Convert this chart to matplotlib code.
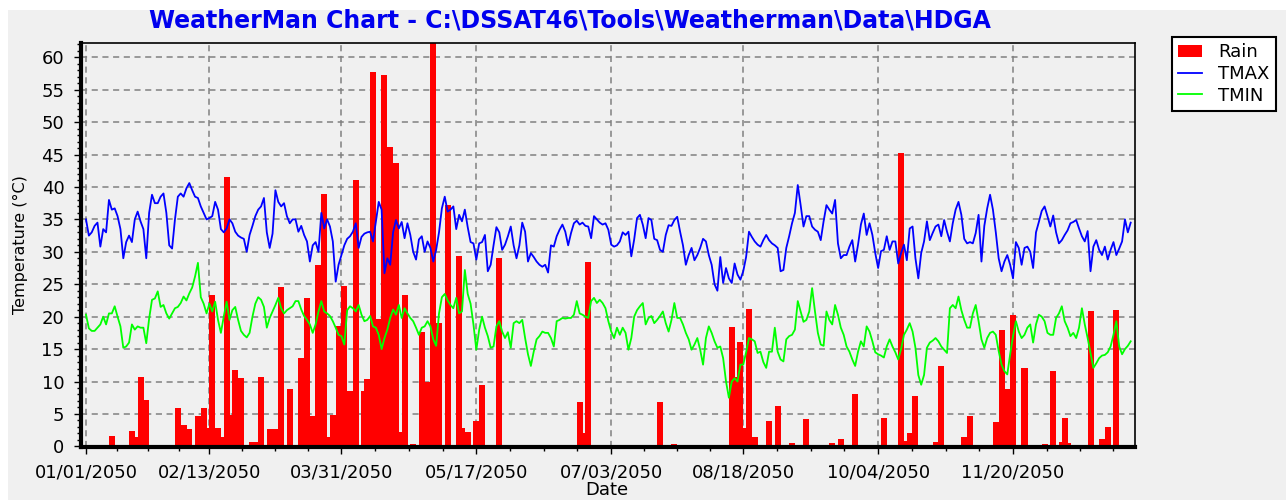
import datetime as dt
import numpy as np
import matplotlib
matplotlib.use("Agg")
import matplotlib.pyplot as plt
from matplotlib.patches import Rectangle, Patch
from matplotlib.lines import Line2D
from matplotlib.ticker import FixedLocator, MultipleLocator

# ---------------- data ----------------
title = r"WeatherMan Chart - C:\DSSAT46\Tools\Weatherman\Data\HDGA"
x_title = "Date"
y_title = "Temperature (°C)"
series_names = ["Rain", "TMAX", "TMIN"]
tick_labels = ["01/01/2050", "02/13/2050", "03/31/2050", "05/17/2050",
               "07/03/2050", "08/18/2050", "10/04/2050", "11/20/2050"]

tmax = [
    35, 32.5, 33, 34, 34.5, 30.8, 33.5, 33, 38, 36.5,
    36.7, 35.5, 33.5, 29, 31.5, 32.5, 31.5, 35, 36.2, 34.7,
    33.5, 29, 36, 38.8, 37.5, 37.5, 38.5, 39, 36, 31,
    30.5, 35, 38.5, 39, 38.5, 39.8, 40.6, 39.5, 38.5, 38.3,
    37, 36, 35, 35.2, 35.5, 37.7, 36.5, 33.5, 33, 33.6,
    35, 34.4, 33.1, 32.5, 32.2, 32, 30, 32.6, 34, 35.5,
    36.5, 37, 38.3, 33, 30.6, 32.8, 39.5, 37.7, 37, 37.5,
    35.5, 34.4, 35, 35, 33.1, 34, 32.6, 31.6, 28.5, 31,
    31.5, 30, 36, 33.6, 35, 33.9, 31.6, 25.4, 28, 29.5,
    31, 32, 32.4, 33.1, 34.4, 30.6, 32.3, 32.8, 33, 33.1,
    31.6, 34.6, 37.7, 36.5, 26.7, 29, 28, 33, 34.9, 33.6,
    34.6, 32.1, 34.4, 32.6, 30, 28.8, 31.9, 32.4, 30, 31.6,
    30.6,
    28.5, 30.3, 33, 36.7, 38.5, 36.2, 36.5, 37, 33.5,
    35.7, 34.7, 36.5, 33.8, 31.5, 31.3, 28.8, 31.3, 31.5, 32.6,
    27, 28, 31, 33.8, 33, 30.3, 31.1, 32.4, 33.9, 31,
    29, 31, 34.5, 33.1, 28.5, 29.8, 29.2, 28.5, 28, 27.7,
    28, 26.8, 31, 30.8, 32.4, 33.4, 34.2, 33.1, 31, 32.9,
    34.4, 34.8, 34.2, 34.5, 34, 33.9, 32.1, 35.5, 35, 34.5,
    34.2, 34.4,
    33.4, 31.1, 30.8, 31, 31.6, 33, 32.6, 33.1,
    29.3, 31.9, 35.2, 35.7, 34.2, 32.1, 35.2, 34.9, 32, 31.8,
    30.3, 30, 32.6, 34.1, 34, 34.9, 35.4, 33.1, 31, 28,
    29.5, 30.6, 28.7, 29.5, 30.6, 32, 31.6, 29.5, 28, 25,
    24, 29.2, 25.2, 27.5, 25.9, 25.2, 28.2, 26.5, 25.7, 27,
    29.2, 33.1, 32.3, 31.6, 31.1, 30.8, 31.8, 32.6, 31.8, 31.3,
    31, 30.6, 27, 27.2,
    30.6, 32.4, 34.4, 36, 40.3, 37.2,
    33.9, 35.5, 35.5, 33.9, 33.4, 33.1, 31.8, 34.7, 37.2, 36.5,
    35.9, 38, 31.3, 29, 29.5, 29.5, 30.8, 31.8, 28.5, 31.1,
    34.2, 35.9, 32.6, 34.4, 32.6, 29.8, 27.5, 30.1, 30.3, 32.4,
    30.3, 31.6, 31.6, 28.2, 29.8, 31.1, 28.7, 33.6, 33.9, 29,
    25.9, 29.8, 31.6, 34.7, 31.8, 32.9, 33.9, 34.2, 32.4, 34.9,
    33.1, 31.6, 34.4, 36.5, 37.7,
    35.7, 32, 31.3, 31.5, 31.3,
    32.9, 35.7, 28.5, 34, 36.7, 38.8, 36.5, 33, 29, 27,
    28.5, 29.5, 28, 25.9, 31.5, 30.6, 28, 30.6, 30.8, 30,
    27.5, 33, 34.6, 36.3, 37, 35.5, 33.9, 35.6, 33, 31.3,
    31.8, 32.6, 33.3, 34.4, 34.6, 34.9, 33.6, 32.4, 31.6, 33.2,
    27, 30.8, 31.8, 30.3, 29.5, 30.8, 28.8, 30.3, 31.5, 29.5,
    30.5, 31.6, 35, 33, 34.5,
]

tmin = [
    20.3, 18.2, 17.8, 17.8, 18.3, 18.8, 20, 18.8, 20.5, 20.5,
    21.6, 20, 18.5, 15.2, 15.4, 16, 18.8, 18, 18.5, 18.3,
    18.3, 15.9, 19.7, 22.6, 22.8, 23.9, 21.5, 21.8, 20.5, 19.7,
    20.5, 21.3, 21.5, 22.1, 23.1, 22.5, 23.6, 24.5, 26.2, 28.3,
    23, 22, 20.5, 22, 20.8, 22.3, 19.5, 17.5, 20, 22.3,
    19.5, 21, 21.5, 19.5, 17.8, 17.2, 16.8, 17.5, 20, 22,
    23, 22.6, 21.5, 18.3, 19.8, 20.8, 21.8, 22.9, 21.3, 20.5,
    21, 21.3, 21.6, 22.4, 22.4, 21.1, 20.1, 19.5, 18.8, 17.5,
    18.8, 20.8, 22.4, 20.8, 20.5, 20.1, 19.3, 18.3, 17.2, 17,
    15.7, 21, 21.6, 21.3, 20.8, 21.8, 20.3, 19.3, 19.5, 20.1,
    18.5, 18.3, 17.2, 15, 16.7, 18, 19.8, 21.1, 20.3, 21.8,
    19.8, 21.3, 20.5, 19.8, 19.3, 18.3, 17.2, 18.3, 18.5, 19.3,
    18.5,
    16.5, 15.5, 20.5, 23, 23.5, 22.5, 21.8, 21.3, 22.9,
    20.5, 20.8, 27.2, 23.5, 22, 18.8, 14.9, 18, 20, 18.3,
    17, 15.2, 15.4, 18.5, 19.3, 17.7, 16.7, 17.6, 15.2, 19,
    19.3, 19, 19.5, 16.7, 14.2, 12.4, 14.6, 16.5, 17, 17.7,
    17.5, 17.5, 16.7, 15.4, 19.3, 19.5, 19.8, 19.7, 19.8, 19.8,
    20.3, 22.4, 20.5, 20.3, 20, 19.8, 22.4, 22.9, 22.1, 22.6,
    22.1, 21.3,
    19.3, 17.7, 16.7, 18.3, 17.2, 18.3, 17.5, 14.9,
    16.7, 20, 21, 21.6, 22.1, 18.8, 19.8, 20.1, 19, 19.5,
    20.1, 20.8, 19, 17.7, 19.5, 22.1, 19.8, 19.8, 18.8, 17.5,
    16.5, 14.9, 15.7, 16.7, 14.9, 12.6, 16.7, 18.5, 17.5, 16.2,
    15.2, 15.4, 13.6, 10, 7.5, 10, 10.5, 10, 12.6, 12.6,
    14.5, 16.7, 16.5, 16.2, 14.4, 14.6, 13, 12.1, 14.6, 14.6,
    18.3, 14.6, 13.4, 13.1,
    16.5, 17, 17.2, 18, 22.4, 20.8,
    19.2, 19.5, 20.8, 24.4, 20.8, 17.5, 15.7, 15.5, 20.8, 19.5,
    18.8, 21.8, 20.3, 18.3, 17.2, 15.4, 14.6, 13.4, 12.4, 14.6,
    16.2, 15.4, 18.5, 17.7, 16.2, 14.5, 14.2, 14, 13.7, 15.4,
    16.5, 15.4, 14.5, 13.4, 15, 17.2, 18, 19, 17.7, 15.2,
    11, 9.5, 11, 15.2, 16, 16.3, 16.7, 16.2, 15.4, 14.9,
    14.4, 21.3, 21.8, 21.3, 23.1,
    21, 19.5, 18.3, 18.3, 20.5,
    21.8, 19.3, 16.5, 15.2, 16.7, 17.5, 17.7, 17.2, 14.7, 12.6,
    11.6, 11.1, 14.2, 17, 19.3, 17.7, 16.7, 17.2, 18.3, 18.8,
    16, 18.8, 20.3, 20, 19.3, 17.5, 17.2, 17.2, 19.8, 20.5,
    21.6, 19.3, 18.3, 17, 17.5, 16.7, 18.3, 21.3, 18.8, 16.7,
    14.4, 12.1, 12.8, 13.6, 14, 14.1, 14.5, 15.4, 17.2, 19.3,
    15.4, 14.2, 15, 15.5, 16.2,
]

# rainy days (day of year, 0 = 01/01/2050) and amounts; all other days are 0
rain_day = [9, 11, 16, 17, 19, 21, 30, 32, 34, 36, 39, 41, 42, 44, 46, 47,
            49, 51, 52, 54, 58, 59, 61, 64, 65, 66, 68, 71, 75, 77, 78, 79,
            81, 83, 85, 86, 88, 90, 92, 94, 97, 98, 100, 102, 104, 106, 107,
            108, 109, 111, 114, 117, 119, 121, 123, 126, 130, 131, 133, 136,
            138, 144, 172, 173, 175, 185, 186, 193, 200, 205, 225, 226, 228,
            229, 231, 233, 238, 241, 246, 247, 251, 260, 263, 268, 278, 284,
            286, 287, 289, 296, 298, 306, 308, 317, 319, 321, 323, 327, 334,
            337, 340, 341, 342, 350, 354, 356, 359]
rain_mm = [1.6, 0.1, 2.3, 1.4, 10.7, 7.1, 0.2, 5.9, 3.3, 2.6, 4.7, 5.9, 2.8,
           23.4, 2.8, 1.5, 41.5, 4.8, 11.7, 10.5, 0.6, 0.6, 10.7, 2.6, 2.0,
           2.6, 24.6, 8.8, 13.6, 22.9, 1.6, 4.7, 27.9, 38.9, 1.4, 4.8, 18.6,
           24.8, 8.5, 41.0, 8.5, 10.4, 57.7, 19.7, 57.2, 46.1, 17.7, 43.7,
           2.2, 23.4, 0.4, 17.7, 10.0, 66.0, 19.0, 37.2, 29.4, 2.9, 2.2, 3.9,
           9.4, 29.1, 6.8, 2.1, 28.5, 0.1, 0.1, 0.1, 6.8, 0.35, 18.4, 10.7,
           16.1, 2.9, 21.2, 1.4, 3.9, 6.2, 0.45, 0.1, 4.2, 0.45, 1.1, 8.0,
           4.3, 45.3, 0.9, 2.1, 7.8, 0.6, 12.4, 1.4, 4.7, 3.8, 17.9, 8.8,
           20.3, 12.1, 0.35, 11.6, 0.6, 4.4, 0.5, 20.8, 1.1, 3.0, 21.0]

y_ticks = list(range(0, 61, 5))

# ---------------- figure ----------------
W, H = 1286, 500
BG = "#f0f0f0"
fig = plt.figure(figsize=(W / 100, H / 100), dpi=100)
fig.patch.set_facecolor("white")
fig.add_artist(Rectangle((8 / W, 0), 1, 1 - 10 / H, transform=fig.transFigure,
                         facecolor=BG, edgecolor="none", zorder=-10))

L, R, T, B = 81, 1135, 43, 447
ax = fig.add_axes([L / W, 1 - B / H, (R - L) / W, (B - T) / H])
ax.set_facecolor(BG)

start = dt.date(2050, 1, 1)
days = np.arange(len(tmax))
tick_pos = [(dt.datetime.strptime(s, "%m/%d/%Y").date() - start).days for s in tick_labels]

ax.bar(rain_day, rain_mm, width=2.1, color="#ff0000", linewidth=0, zorder=2)
ax.plot(days, tmax, color="#0000ff", lw=1.3, zorder=3)
ax.plot(days, tmin, color="#00ff00", lw=1.3, zorder=3)

ax.set_xlim(-1.74, 365.5)
ax.set_ylim(-0.1, 62.2)

ax.set_xticks(tick_pos)
ax.set_xticklabels(tick_labels)
minor = []
for a, b in zip(tick_pos[:-1], tick_pos[1:]):
    minor += [a + k * (b - a) / 4 for k in (1, 2, 3)]
step = 46.67 / 4
minor += [tick_pos[-1] + k * step for k in (1, 2, 3)]
ax.xaxis.set_minor_locator(FixedLocator(minor))
ax.set_yticks(y_ticks)
ax.yaxis.set_minor_locator(MultipleLocator(1))

ax.set_axisbelow(True)
ax.grid(True, which="major", color="#808080", linestyle=(0, (4, 3)), lw=1.1)

for s in ("left", "bottom"):
    ax.spines[s].set_linewidth(3)
    ax.spines[s].set_color("black")
for s in ("top", "right"):
    ax.spines[s].set_linewidth(1.2)
    ax.spines[s].set_color("black")

ax.tick_params(axis="both", which="major", direction="out", length=5, width=1,
               colors="black", labelsize=13)
ax.tick_params(axis="both", which="minor", direction="out", length=3, width=1,
               colors="black")
ax.tick_params(axis="y", which="major", pad=7)
ax.tick_params(axis="x", which="major", pad=7)

fig.text(570 / W, 1 - 20 / H, title, color="#0000ee", fontweight="bold",
         fontsize=17, ha="center", va="center")
fig.text(20 / W, 1 - 245 / H, y_title, rotation=90, fontsize=11.5,
         ha="center", va="center")
fig.text(607 / W, 1 - 490 / H, x_title, fontsize=13, ha="center", va="center")

handles = [Patch(facecolor="#ff0000", edgecolor="none"),
           Line2D([], [], color="#0000ff", lw=1.3),
           Line2D([], [], color="#00ff00", lw=1.3)]
leg = fig.legend(handles, series_names, loc="upper left",
                 bbox_to_anchor=(1172 / W, 1 - 37 / H), frameon=True,
                 fancybox=False, edgecolor="black", facecolor="white",
                 framealpha=1, fontsize=13, handlelength=1.3,
                 borderpad=0.35, labelspacing=0.2, handletextpad=0.9,
                 borderaxespad=0)
leg.get_frame().set_linewidth(1.5)

fig.savefig("out.png", dpi=100, facecolor=fig.get_facecolor())
